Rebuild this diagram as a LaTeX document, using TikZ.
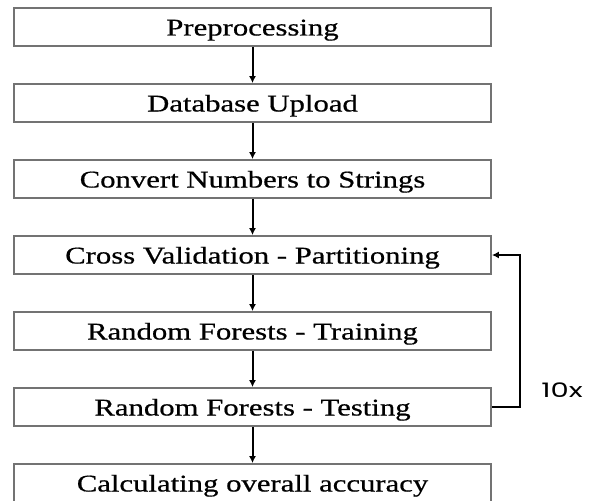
\documentclass[tikz,border=0pt]{standalone}
\usepackage{fontspec}
\setmainfont{Liberation Serif}[FakeStretch=1.28,FakeBold=0.6]
\newfontfamily\loopfont{Poppins}[FakeStretch=1.45]
\usetikzlibrary{arrows.meta}

\tikzset{
  stagebox/.style={draw=black!55, line width=1.8pt, minimum width=477pt,
    minimum height=38pt, inner sep=0pt, text height=17pt, text depth=0pt,
    font=\fontsize{24}{28}\selectfont},
  flow/.style={line width=2pt, -{Latex[length=7pt,width=7pt]}}
}

\begin{document}
\begin{tikzpicture}[x=1pt,y=-1pt]
\useasboundingbox (0,0) rectangle (593,500);
\node[stagebox] (prep) at (252.5,27) {Preprocessing};
\node[stagebox] (upload) at (252.5,103) {Database Upload};
\node[stagebox] (convert) at (252.5,179) {Convert Numbers to Strings};
\node[stagebox] (partition) at (252.5,255) {Cross Validation - Partitioning};
\node[stagebox] (train) at (252.5,331) {Random Forests - Training};
\node[stagebox] (test) at (252.5,407) {Random Forests - Testing};
\node[stagebox] (overall) at (252.5,483) {Calculating overall accuracy};
\draw[flow] (prep) -- (upload);
\draw[flow] (upload) -- (convert);
\draw[flow] (convert) -- (partition);
\draw[flow] (partition) -- (train);
\draw[flow] (train) -- (test);
\draw[flow] (test) -- (overall);
% repeat loop back to partitioning
\coordinate (loop) at (520,0);
\draw[flow] (test.east) -- (test.east -| loop) -- (partition.east -| loop) -- (partition.east);
\node[font=\loopfont\fontsize{20}{22}\selectfont] (times) at (562,390) {10x};
\end{tikzpicture}
\end{document}
